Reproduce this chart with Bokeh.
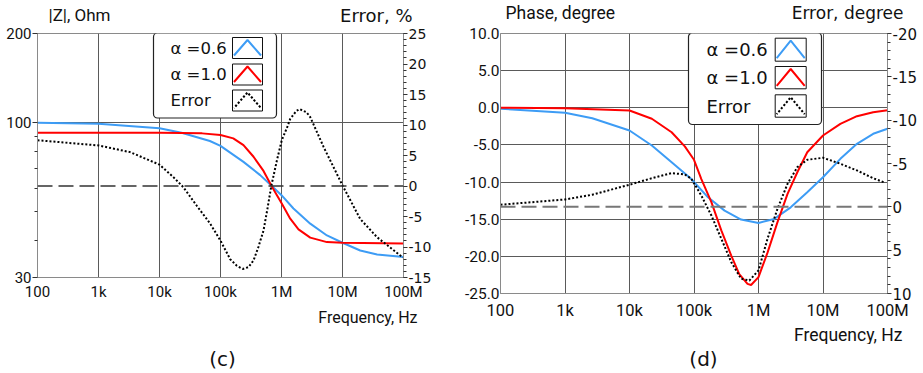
import math
from bokeh.plotting import figure
from bokeh.models import (Range1d, LinearScale, LinearAxis, FixedTicker, Span, Label, Title,
                          BoxAnnotation, PolyAnnotation)
from bokeh.layouts import row, column
from bokeh.embed import file_html
from bokeh.resources import INLINE

# ---------------- data: panel (c) |Z| and error ----------------
freq_ticks = [1e2, 1e3, 1e4, 1e5, 1e6, 1e7, 1e8]
freq_tick_labels = ["100", "1k", "10k", "100k", "1M", "10M", "100M"]

zc_blue_f = [1e2, 1e3, 1e4, 2.3e4, 6.7e4, 1e5, 2.38e5, 4.47e5, 6.8e5, 1e6, 1.57e6,
             2.96e6, 5.56e6, 1e7, 1.95e7, 3.69e7, 1e8]
zc_blue = [100.0, 99.2, 95.7, 92.5, 86.7, 83.5, 73.7, 66.5, 61.3, 56.9, 51.3,
           45.6, 41.6, 39.3, 37.0, 35.9, 35.2]

zc_red_f = [1e2, 1e4, 5e4, 1e5, 1.62e5, 2.38e5, 3.48e5, 5.07e5, 6.8e5, 8.41e5, 1.01e6,
            1.39e6, 1.9e6, 2.96e6, 5.56e6, 1e7, 1e8]
zc_red = [92.5, 92.5, 92.0, 90.9, 88.5, 84.0, 76.7, 68.7, 61.3, 56.9, 53.3,
          47.4, 43.6, 40.9, 39.5, 39.3, 39.1]

errc_f = [1e2, 1e3, 3.3e3, 1e4, 1.69e4, 2.46e4, 4.06e4, 6.7e4, 1e5, 1.44e5, 1.86e5,
          2.32e5, 2.88e5, 3.48e5, 4.18e5, 5.07e5, 5.89e5, 6.8e5, 8.41e5, 1.01e6, 1.24e6,
          1.39e6, 1.75e6, 1.98e6, 2.56e6, 2.96e6, 4.9e6, 1e7, 1.95e7, 3.69e7, 8.9e7, 1e8]
errc = [7.5, 6.65, 5.55, 3.5, 1.45, -0.2, -3.2, -6.1, -8.95, -12.0, -13.1,
        -13.6, -13.3, -12.2, -10.0, -7.3, -3.7, 0.0, 4.2, 7.5, 9.65,
        11.0, 12.3, 12.6, 12.1, 11.3, 6.4, 0.1, -5.4, -8.4, -11.4, -11.7]

zc_left_ticks = [30, 100, 200]
zc_left_minor = [40, 50, 60, 70, 80, 90]
errc_ticks = [-15, -10, -5, 0, 5, 10, 15, 20, 25]

# ---------------- data: panel (d) phase and error ----------------
phd_blue_f = [1e2, 1e3, 2.65e3, 1e4, 2.22e4, 4.5e4, 9e4, 1.65e5, 2.98e5, 5.37e5, 1e6,
              1.75e6, 3.16e6, 5.7e6, 1e7, 1.86e7, 3.36e7, 6e7, 1e8]
phd_blue = [-0.13, -0.67, -1.4, -3.06, -5.08, -7.33, -9.55, -12.05, -13.84, -15.05, -15.5,
            -14.96, -13.4, -11.37, -9.35, -6.87, -4.85, -3.5, -2.83]

phd_red_f = [1e2, 1e3, 1e4, 2.22e4, 4.5e4, 7.2e4, 1e5, 1.3e5, 1.86e5, 2.65e5, 3.78e5,
             5.03e5, 6.75e5, 7.67e5, 1e6, 1.38e6, 1.97e6, 2.82e6, 4e6, 5.7e6, 1e7,
             1.86e7, 3.36e7, 6e7, 1e8]
phd_red = [0.0, -0.05, -0.36, -1.48, -3.29, -5.2, -7.0, -9.6, -12.7, -16.5, -19.9,
           -22.4, -23.7, -23.85, -22.8, -19.5, -15.4, -11.6, -8.68, -5.98, -3.73,
           -2.16, -1.13, -0.59, -0.32]

errd_f = [1e2, 1e3, 2.65e3, 1e4, 2.22e4, 4.5e4, 7.2e4, 9.1e4, 1.3e5, 1.86e5, 2.65e5,
          3.78e5, 5.37e5, 7.21e5, 1e6, 1.38e6, 1.97e6, 2.82e6, 4e6, 5.7e6, 1e7,
          1.86e7, 3.36e7, 6e7, 9.2e7]
errd = [-0.24, -0.85, -1.4, -2.55, -3.3, -3.89, -3.74, -3.24, -1.3, 1.0, 3.68,
        6.38, 8.3, 8.5, 7.34, 3.68, 0.22, -2.66, -4.58, -5.43, -5.66,
        -4.97, -4.2, -3.3, -2.78]

phd_left_ticks = [-25, -20, -15, -10, -5, 0, 5, 10]
phd_left_labels = ["-25.0", "-20.0", "-15.0", "-10.0", "-5.0", "0.0", "5.0", "10.0"]
errd_ticks = [-20, -15, -10, -5, 0, 5, 10]

legend_labels = ["\u03b1 =0.6", "\u03b1 =1.0", "Error"]

# ---------------- styles / layout ----------------
NARROW = "Roboto"
REG = "DejaVu Sans"
BLUE = "#3d9cf5"
RED = "#ff0000"
GRID = "#5a5a5a"
FRAME = "#8a8a8a"
TOTAL_H = 373
HEADER_H = 24
FOOTER_H = 29
PLOT_H = TOTAL_H - HEADER_H - FOOTER_H


def add_text(p, x, y, txt, font, size, align="left", baseline="middle"):
    p.add_layout(Label(x=x, y=y, x_units="screen", y_units="screen", text=txt,
                       text_font=font, text_font_size=f"{size}px", text_align=align,
                       text_baseline=baseline, text_color="#111111"))


def add_title(p, side, txt, font, size, align, offset, standoff):
    p.add_layout(Title(text=txt, text_font=font, text_font_size=f"{size}px",
                       text_font_style="normal", text_color="#111111",
                       align=align, offset=offset, standoff=standoff), side)


def add_legend(p, box, text_x, rows, icon_lr, font_size):
    l, r, t, b = box
    p.add_layout(BoxAnnotation(left=l, right=r, top=t, bottom=b,
                               left_units="screen", right_units="screen",
                               top_units="screen", bottom_units="screen",
                               fill_color="white", fill_alpha=1.0,
                               line_color="#222222", line_alpha=1.0, line_width=1.2,
                               border_radius=4))
    colors = [BLUE, RED, "black"]
    for (it, ib), lab, col in zip(rows, legend_labels, colors):
        add_text(p, text_x, (it + ib) / 2, lab, REG, font_size)
        il, ir = icon_lr
        p.add_layout(BoxAnnotation(left=il, right=ir, top=it, bottom=ib,
                                   left_units="screen", right_units="screen",
                                   top_units="screen", bottom_units="screen",
                                   fill_color="white", fill_alpha=1.0,
                                   line_color="#111111", line_alpha=1.0, line_width=1))
        mid = (il + ir) / 2
        x0, x1 = il + 1.5, ir - 1.5
        y0, y1 = ib + 3, it - 2.5
        kw = dict(line_color=col, line_alpha=1.0, line_width=2, fill_alpha=0)
        if col == "black":
            seg = math.hypot(mid - x0, y1 - y0)
            M = 2 * seg
            off = (1 - M) % 2
            kw.update(line_dash="2 2", line_dash_offset=int(round(off)))
        p.add_layout(PolyAnnotation(xs=[x0, mid, x1, mid], ys=[y0, y1, y0, y1],
                                    xs_units="screen", ys_units="screen", **kw))


def style_x(p, size, standoff):
    ax = p.xaxis[0]
    ax.ticker = FixedTicker(ticks=freq_ticks, minor_ticks=[])
    ax.major_label_overrides = {t: s for t, s in zip(freq_ticks, freq_tick_labels)}
    ax.major_tick_out = 0
    ax.major_tick_in = 0
    ax.minor_tick_out = 0
    ax.major_label_standoff = standoff
    ax.major_label_text_font = NARROW
    ax.major_label_text_font_size = f"{size}px"
    ax.major_label_text_color = "#111111"
    ax.axis_line_color = FRAME


def no_align(p):
    if "frame_align" in p.properties():
        p.frame_align = False


def text_strip(height):
    s = figure(width=923, height=height, x_range=Range1d(0, 1), y_range=Range1d(0, 1),
               x_axis_location=None, y_axis_location=None,
               output_backend="svg", toolbar_location=None,
               min_border_left=0, min_border_right=0, min_border_top=0, min_border_bottom=0)
    no_align(s)
    s.outline_line_color = None
    s.xgrid.visible = False
    s.ygrid.visible = False
    s.border_fill_color = "white"
    return s


# ================= header with the axis titles =================
header = text_strip(HEADER_H)
add_text(header, 48, HEADER_H - 14, "|Z|, Ohm", NARROW, 17)
add_text(header, 412, HEADER_H - 14.5, "Error, %", REG, 18, align="right")
add_text(header, 505, HEADER_H - 12.5, "Phase, degree", NARROW, 17.5)
add_text(header, 903, HEADER_H - 12.5, "Error, degree", REG, 17, align="right")

# ================= footer with the panel captions =================
footer = text_strip(FOOTER_H)
add_text(footer, 222, 15, "(c)", REG, 20, align="center")
add_text(footer, 703, 15, "(d)", REG, 20, align="center")

# ================= panel (c) =================
p1 = figure(width=461, height=PLOT_H, x_axis_type="log", y_axis_type="log",
            x_range=Range1d(1e2, 1e8), y_range=Range1d(30, 200),
            output_backend="svg", toolbar_location=None,
            min_border_left=37, min_border_right=58, min_border_top=9, min_border_bottom=67)
no_align(p1)
p1.extra_y_ranges = {"err": Range1d(-15, 25)}
p1.extra_y_scales = {"err": LinearScale()}
p1.outline_line_color = FRAME
p1.background_fill_color = "white"
p1.border_fill_color = "white"

style_x(p1, 15, 5)
ay = p1.yaxis[0]
ay.ticker = FixedTicker(ticks=zc_left_ticks, minor_ticks=zc_left_minor)
ay.major_label_overrides = {t: str(t) for t in zc_left_ticks}
ay.major_tick_out = 5
ay.major_tick_in = 0
ay.minor_tick_out = 3
ay.minor_tick_in = 0
ay.major_label_standoff = 1
ay.major_label_text_font = NARROW
ay.major_label_text_font_size = "15px"
ay.major_label_text_color = "#111111"
ay.axis_line_color = FRAME
ay.major_tick_line_color = "#333333"
ay.minor_tick_line_color = "#333333"

ar = LinearAxis(y_range_name="err",
                ticker=FixedTicker(ticks=errc_ticks, minor_ticks=list(range(-15, 26))))
ar.major_label_overrides = {t: str(t) for t in errc_ticks}
ar.major_tick_out = 4
ar.major_tick_in = 0
ar.minor_tick_out = 3
ar.minor_tick_in = 0
ar.major_label_standoff = 1
ar.major_label_text_font = REG
ar.major_label_text_font_size = "14px"
ar.major_label_text_color = "#111111"
ar.axis_line_color = FRAME
ar.major_tick_line_color = "#333333"
ar.minor_tick_line_color = "#333333"
p1.add_layout(ar, "right")

p1.xgrid.grid_line_color = GRID
p1.ygrid.grid_line_color = GRID
p1.ygrid.ticker = FixedTicker(ticks=zc_left_ticks)

p1.add_layout(Span(location=0, dimension="width", y_range_name="err",
                   line_color="#333333", line_width=1.3, line_dash="15 6"))
p1.line(zc_blue_f, zc_blue, line_color=BLUE, line_width=2)
p1.line(zc_red_f, zc_red, line_color=RED, line_width=2)
p1.line(errc_f, errc, y_range_name="err", line_color="black", line_width=2,
        line_dash="2 2")

add_title(p1, "below", "Frequency, Hz", NARROW, 16, "right", -14, 4)
add_legend(p1, (116, 239, 244.5, 159.5), 133,
           [(240, 219), (213.5, 192.5), (187.5, 166.5)], (195, 225), 16.5)

# ================= panel (d) =================
p2 = figure(width=462, height=PLOT_H, x_axis_type="log",
            x_range=Range1d(1e2, 1e8), y_range=Range1d(-25, 10),
            output_backend="svg", toolbar_location=None,
            min_border_left=36, min_border_right=36, min_border_top=9, min_border_bottom=51)
no_align(p2)
p2.extra_y_ranges = {"err": Range1d(start=10, end=-20)}
p2.extra_y_scales = {"err": LinearScale()}
p2.outline_line_color = FRAME
p2.background_fill_color = "white"
p2.border_fill_color = "white"

style_x(p2, 16.5, 7)
by = p2.yaxis[0]
by.ticker = FixedTicker(ticks=phd_left_ticks, minor_ticks=[])
by.major_label_overrides = {t: s for t, s in zip(phd_left_ticks, phd_left_labels)}
by.major_tick_out = 0
by.major_tick_in = 0
by.minor_tick_out = 0
by.major_label_standoff = 1
by.major_label_text_font = NARROW
by.major_label_text_font_size = "15.5px"
by.major_label_text_color = "#111111"
by.axis_line_color = FRAME

br = LinearAxis(y_range_name="err",
                ticker=FixedTicker(ticks=errd_ticks, minor_ticks=list(range(-20, 11))))
br.major_label_overrides = {t: str(t) for t in errd_ticks}
br.major_tick_out = 4
br.major_tick_in = 0
br.minor_tick_out = 3
br.minor_tick_in = 0
br.major_label_standoff = 1
br.major_label_text_font = REG
br.major_label_text_font_size = "15px"
br.major_label_text_color = "#111111"
br.axis_line_color = FRAME
br.major_tick_line_color = "#333333"
br.minor_tick_line_color = "#333333"
p2.add_layout(br, "right")

p2.xgrid.grid_line_color = GRID
p2.ygrid.grid_line_color = GRID

p2.add_layout(Span(location=0, dimension="width", y_range_name="err",
                   line_color="#777777", line_width=2, line_dash="15 6"))
p2.line(phd_blue_f, phd_blue, line_color=BLUE, line_width=2)
p2.line(phd_red_f, phd_red, line_color=RED, line_width=2)
p2.line(errd_f, errd, y_range_name="err", line_color="black", line_width=2,
        line_dash="2 2")

add_title(p2, "below", "Frequency, Hz", NARROW, 17.5, "right", -15, 0)
add_legend(p2, (188, 321, 260.7, 169), 206,
           [(255.3, 232.3), (227, 204.7), (198.7, 176.3)], (274.7, 305.7), 18)

layout = column(header, row(p1, p2), footer)
open("out.html", "w").write(file_html(layout, INLINE))
